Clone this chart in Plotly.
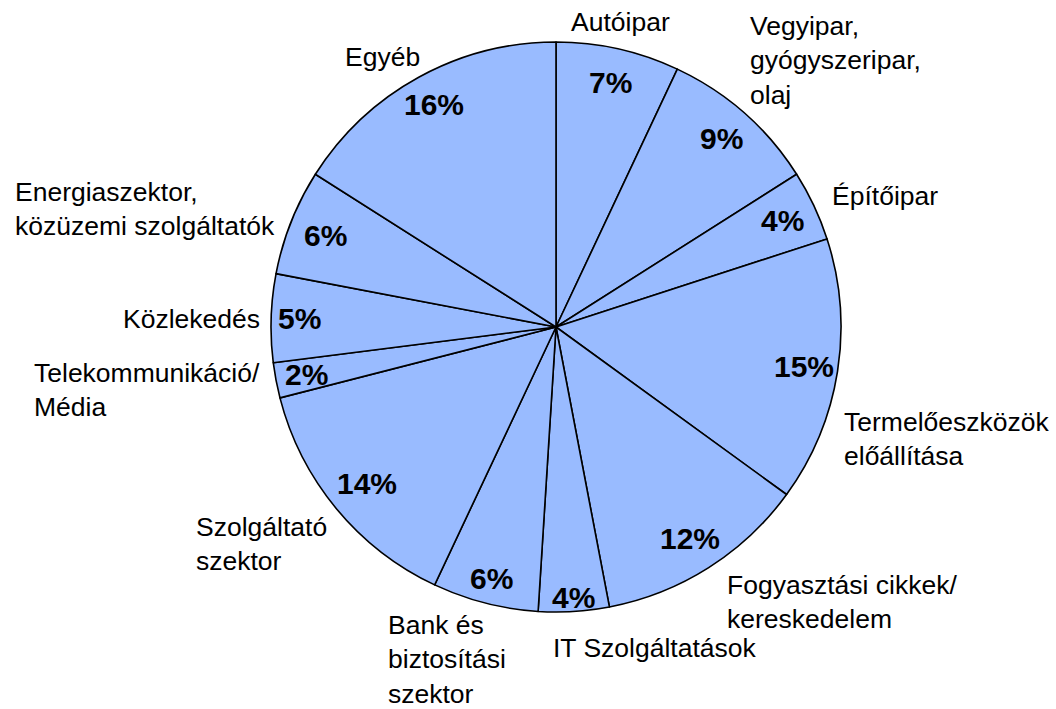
"""Ágazati megoszlás – kördiagram (Plotly)."""
import math

import plotly.graph_objects as go

# --- data -------------------------------------------------------------------
SECTORS = [
    "Autóipar",
    "Vegyipar,<br>gyógyszeripar,<br>olaj",
    "Építőipar",
    "Termelőeszközök<br>előállítása",
    "Fogyasztási cikkek/<br>kereskedelem",
    "IT Szolgáltatások",
    "Bank és<br>biztosítási<br>szektor",
    "Szolgáltató<br>szektor",
    "Telekommunikáció/<br>Média",
    "Közlekedés",
    "Energiaszektor,<br>közüzemi szolgáltatók",
    "Egyéb",
]
SHARES = [7, 9, 4, 15, 12, 4, 6, 14, 2, 5, 6, 16]

# --- layout / styling ---------------------------------------------------------
W, H = 1056, 709
CX, CY, R = 556, 327, 285  # pie centre and radius in page pixels
FILL = "#99BBFF"
FONT = "Liberation Sans, Arial, sans-serif"

# outside label placement: (anchor, dx, dy) offset in px from the rim point
LABEL_POS = [
    ("center", 2, -27),
    ("left", 4, -53),
    ("left", 16, -10),
    ("left", 5, 67),
    ("left", 16, 34),
    ("left", -23, 37),
    ("right", 23, 56),
    ("right", -7, 35),
    ("right", -14, 10),
    ("right", -9, 1),
    ("right", -14, -13),
    ("right", 3, -20),
]
PCT_RADIUS = [0.88, 0.88, 0.88, 0.88, 0.88, 0.95, 0.91, 0.86, 0.89, 0.90, 0.87, 0.89]


def px_to_paper(x, y):
    return x / W, 1 - y / H


x0, y1 = px_to_paper(CX - R, CY - R)
x1, y0 = px_to_paper(CX + R, CY + R)

fig = go.Figure(
    go.Pie(
        labels=SECTORS,
        values=SHARES,
        sort=False,
        direction="clockwise",
        rotation=0,
        textinfo="none",
        hoverinfo="label+value",
        showlegend=False,
        marker=dict(colors=[FILL] * len(SHARES), line=dict(color="black", width=1.6)),
        domain=dict(x=[x0, x1], y=[y0, y1]),
    )
)

total = sum(SHARES)
cum = 0
annotations = []
for name, val, (anchor, dx, dy), pr in zip(SECTORS, SHARES, LABEL_POS, PCT_RADIUS):
    mid = (cum + val / 2) / total * 2 * math.pi
    cum += val
    s, c = math.sin(mid), math.cos(mid)

    # percentage inside the slice
    px, py = px_to_paper(CX + R * pr * s, CY - R * pr * c)
    annotations.append(dict(
        x=px, y=py, xref="paper", yref="paper", text=f"<b>{val}%</b>",
        showarrow=False, xanchor="center", yanchor="middle",
        font=dict(family=FONT, size=30, color="black"),
    ))

    # sector name outside the pie
    lx, ly = px_to_paper(CX + R * s + dx, CY - R * c + dy)
    annotations.append(dict(
        x=lx, y=ly, xref="paper", yref="paper", text=name,
        showarrow=False, xanchor=anchor, yanchor="middle", align="left",
        font=dict(family=FONT, size=26.5, color="black"),
    ))

fig.update_layout(
    width=W,
    height=H,
    margin=dict(l=0, r=0, t=0, b=0),
    paper_bgcolor="white",
    plot_bgcolor="white",
    annotations=annotations,
)

# drop the browser's default body margin so the figure fills the window
fig.write_html(
    "out.html",
    config={"displayModeBar": False},
    post_script="document.body.style.margin='0';document.body.style.overflow='hidden';",
)
